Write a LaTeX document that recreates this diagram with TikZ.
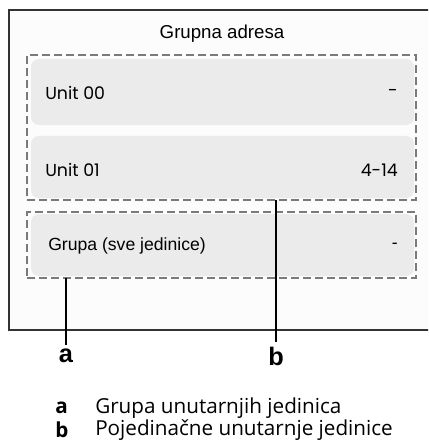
\documentclass[tikz,border=0pt]{standalone}
\usepackage{fontspec}
\setmainfont{Liberation Sans}
\newfontfamily\legendfont{Open Sans}
\newfontfamily\unitfont{Poppins}
\usepackage{xcolor}
\definecolor{frameGray}{HTML}{333333}
\definecolor{dashGray}{HTML}{7A7A7A}
\definecolor{rowBg}{HTML}{EBEBEB}
\definecolor{panelBg}{HTML}{FCFCFC}
\usetikzlibrary{positioning}
\tikzset{
  unitrow/.style={
    fill=rowBg,
    draw=none,
    rounded corners=6pt
  },
  groupbox/.style={
    draw=dashGray,
    line width=1.8pt,
    dash pattern=on 6pt off 3pt
  },
  rowtext/.style={
    font=\unitfont\fontsize{13}{15}\selectfont,
    anchor=west,
    inner sep=0pt
  },
  rowvalue/.style={
    font=\unitfont\fontsize{13}{15}\selectfont,
    anchor=east,
    inner sep=0pt
  },
  leader/.style={
    draw=black,
    line width=1.8pt
  },
  calloutlabel/.style={
    font=\fontsize{19}{22}\selectfont\bfseries,
    inner sep=0pt
  },
  legendkey/.style={
    font=\legendfont\fontsize{15.5}{18}\selectfont\bfseries,
    anchor=west,
    inner sep=0pt
  },
  legendtext/.style={
    font=\legendfont\fontsize{15.5}{18}\selectfont,
    anchor=west,
    inner sep=0pt
  }
}

\begin{document}
\begin{tikzpicture}[x=0.75pt,y=-0.75pt]
  \useasboundingbox (0,0) rectangle (428,442);
  % outer panel, cut off on the right
  \begin{scope}
    \clip (0,0) rectangle (428,442);
    \fill[panelBg] (9,10) rectangle (432,330);
    \draw[frameGray,line width=1pt] (432,10) -- (9,10) -- (9,330) -- (432,330);
  \end{scope}
  \node[font=\fontsize{14}{16}\selectfont] (title) at (222,34) {Grupna adresa};

  % rows
  \fill[unitrow] (31,59) rectangle (414,125);
  \fill[unitrow] (31,136) rectangle (414,198);
  \fill[unitrow] (31,214) rectangle (414,276);
  \node[rowtext] (u00) at (45,93) {Unit 00};
  \node[rowvalue] (u00val) at (398,93) {-};
  \node[rowtext] (u01) at (45,170) {Unit 01};
  \node[rowvalue] (u01val) at (398,170) {4-14};
  \node[rowtext,font=\fontsize{13.2}{15}\selectfont] (grp) at (48,246) {Grupa (sve jedinice)};
  \node[rowvalue,font=\fontsize{13.2}{15}\selectfont] (grpval) at (398,246) {-};

  % dashed groups
  \node[groupbox,minimum width=389*0.75pt,minimum height=145*0.75pt,inner sep=0pt] (units) at (221.5,127.5) {};
  \node[groupbox,minimum width=389*0.75pt,minimum height=66*0.75pt,inner sep=0pt] (group) at (221.5,245) {};

  % callouts
  \node[calloutlabel] (a) at (66,356) {a};
  \node[calloutlabel] (b) at (276,356) {b};
  \coordinate (aTop) at (66,278);
  \coordinate (bTop) at (276,200);
  \draw[leader] (aTop) -- ([yshift=3pt]a.north);
  \draw[leader] (bTop) -- ([yshift=3pt]b.north);

  % legend
  \node[legendkey] (keyA) at (55,408) {a};
  \node[legendtext] (txtA) at (95,408) {Grupa unutarnjih jedinica};
  \node[legendkey] (keyB) at (55,430) {b};
  \node[legendtext] (txtB) at (95,430) {Pojedinačne unutarnje jedinice};
\end{tikzpicture}
\end{document}
